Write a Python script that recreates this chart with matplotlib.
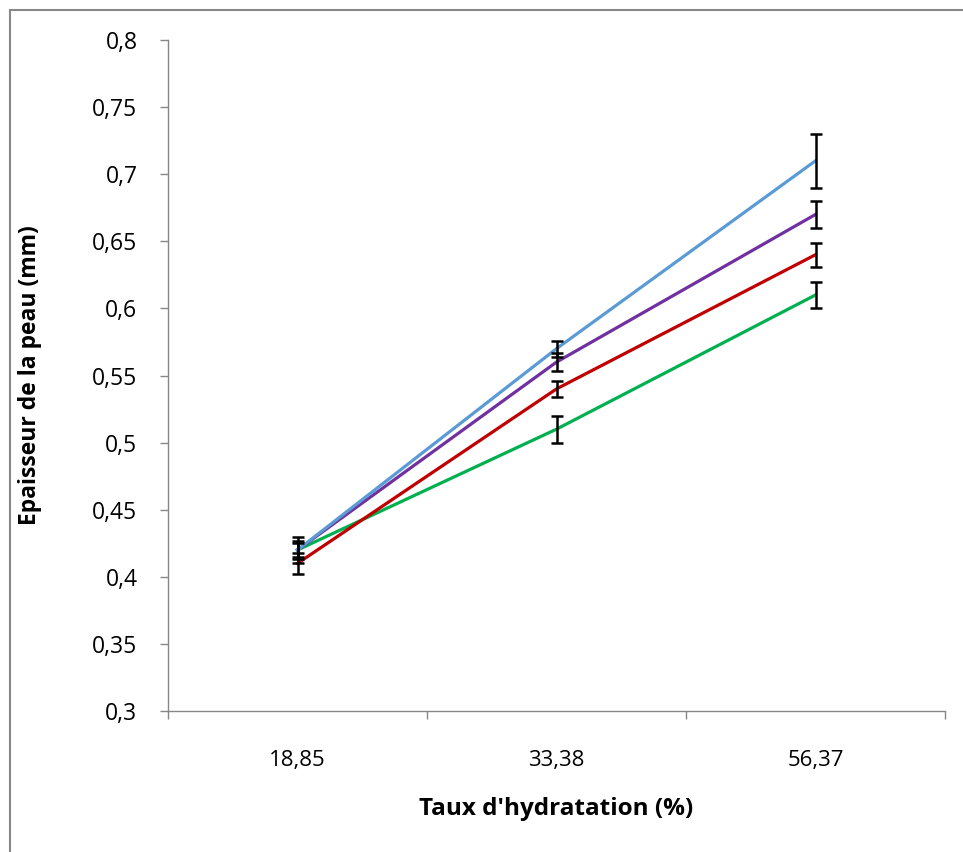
import numpy as np
import matplotlib.pyplot as plt
from matplotlib.patches import Rectangle
from matplotlib.ticker import FixedLocator, FuncFormatter

categories = ['18,85', '33,38', '56,37']
green = [0.42, 0.51, 0.61]
green_err = [0.010, 0.010, 0.010]
red = [0.41, 0.54, 0.64]
red_err = [0.008, 0.006, 0.009]
purple = [0.42, 0.56, 0.67]
purple_err = [0.005, 0.007, 0.010]
blue = [0.42, 0.57, 0.71]
blue_err = [0.007, 0.006, 0.020]

plt.rcParams['font.family'] = ['Open Sans', 'DejaVu Sans']

fig = plt.figure(figsize=(9.63, 8.52), dpi=100)
ax = fig.add_axes([168/963, 1 - 711/852, (945 - 168)/963, (711 - 40)/852])

# outer chart frame
fig.patches.append(Rectangle((10/963, -0.1), 1.2, 1 - 10/852 + 0.1, transform=fig.transFigure,
                             fill=False, edgecolor='#878787', linewidth=1.5))

x = np.arange(len(categories))
series = [(green, green_err, '#00B050'), (red, red_err, '#C00000'),
          (purple, purple_err, '#7030A0'), (blue, blue_err, '#5B9BD5')]
for vals, err, col in series:
    ax.plot(x, vals, color=col, linewidth=2.3, zorder=2)
    ax.errorbar(x, vals, yerr=err, fmt='none', ecolor='black', elinewidth=1.8,
                capsize=4.5, capthick=1.8, zorder=3)

ax.set_xlim(-0.5, 2.5)
ax.set_ylim(0.3, 0.8)
ax.set_yticks(np.arange(0.3, 0.801, 0.05))
ax.yaxis.set_major_formatter(FuncFormatter(lambda v, p: ('%g' % round(v, 2)).replace('.', ',')))
ax.set_xticks(x)
ax.set_xticklabels(categories)
ax.xaxis.set_minor_locator(FixedLocator([-0.5, 0.5, 1.5, 2.5]))
ax.tick_params(axis='x', which='major', length=0, pad=28, labelsize=16)
ax.tick_params(axis='x', which='minor', length=6, color='#878787', width=1)
ax.tick_params(axis='y', length=6, color='#878787', width=1, pad=16, labelsize=16.5)

for s in ['top', 'right']:
    ax.spines[s].set_visible(False)
for s in ['left', 'bottom']:
    ax.spines[s].set_color('#878787')
    ax.spines[s].set_linewidth(1)

ax.set_ylabel('Epaisseur de la peau (mm)', fontsize=16.5, fontweight='bold')
ax.set_xlabel("Taux d'hydratation (%)", fontsize=17.5, fontweight='bold')
ax.yaxis.set_label_coords(-0.162, 0.5)
ax.xaxis.set_label_coords(0.5, -0.128)

fig.savefig('out.png', dpi=100)
